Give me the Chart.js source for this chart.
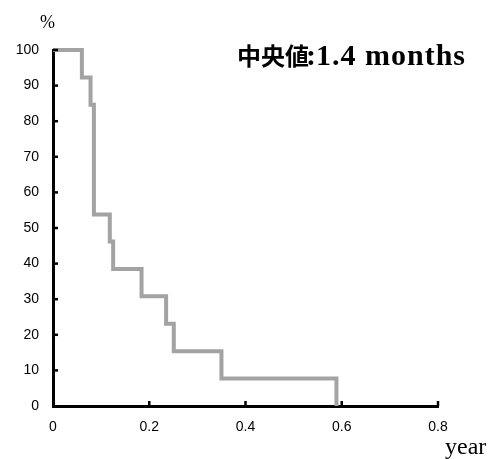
<!DOCTYPE html>
<html>
<head>
<meta charset="utf-8">
<script src="https://cdn.jsdelivr.net/npm/chart.js@4.4.0/dist/chart.umd.min.js"></script>
<style>
  html, body { margin: 0; padding: 0; background: #fff; }
  #wrap { width: 493px; height: 459px; }
</style>
</head>
<body>
<div id="wrap"><canvas id="kmChart" width="493" height="459"></canvas></div>
<script>
// survival curve (Kaplan-Meier), time in years, survival in %
const times = [0, 0.060, 0.078, 0.085, 0.118, 0.125, 0.184, 0.235, 0.251, 0.350, 0.589];
const survival = [100, 92.3, 84.6, 53.8, 46.2, 38.5, 30.8, 23.1, 15.4, 7.7, 0];
const yTicks = [0, 10, 20, 30, 40, 50, 60, 70, 80, 90, 100];
const xTicks = [0, 0.2, 0.4, 0.6, 0.8];

const points = times.map((t, i) => ({ x: t, y: survival[i] }));

// inward tick marks + free text (% / year / median label)
const decorPlugin = {
    id: 'decor',
    afterDraw(chart) {
        const ctx = chart.ctx;
        const xs = chart.scales.x;
        const ys = chart.scales.y;
        const area = chart.chartArea;
        ctx.save();
        ctx.strokeStyle = '#000';
        ctx.lineWidth = 2.5;
        yTicks.slice(1).forEach(v => {
            const y = ys.getPixelForValue(v);
            ctx.beginPath();
            ctx.moveTo(area.left, y);
            ctx.lineTo(area.left + 5, y);
            ctx.stroke();
        });
        xTicks.slice(1).forEach(v => {
            const x = xs.getPixelForValue(v);
            ctx.beginPath();
            ctx.moveTo(x, area.bottom);
            ctx.lineTo(x, area.bottom - 5);
            ctx.stroke();
        });

        ctx.fillStyle = '#000';
        ctx.textBaseline = 'alphabetic';
        ctx.textAlign = 'left';
        ctx.font = '18px "Liberation Serif"';
        ctx.fillText('%', 40, 28);
        ctx.font = '24px "Liberation Serif"';
        ctx.fillText('year', 445, 454);

        ctx.font = 'bold 24px "Noto Sans CJK JP"';
        ctx.fillText('中央値', 237, 65);
        ctx.font = 'bold 30px "Liberation Serif"';
        ctx.fillText(':', 306, 65);
        ctx.letterSpacing = '1px';
        ctx.fillText('1.4 months', 316, 65);
        ctx.restore();
    }
};

new Chart(document.getElementById('kmChart').getContext('2d'), {
    type: 'line',
    data: {
        datasets: [{
            data: points,
            stepped: 'before',
            borderColor: '#a3a3a3',
            borderWidth: 4,
            pointRadius: 0,
            fill: false,
            clip: false
        }]
    },
    options: {
        responsive: false,
        animation: false,
        layout: { padding: { left: 0, top: 50, right: 55, bottom: 0 } },
        plugins: {
            legend: { display: false },
            tooltip: { enabled: false }
        },
        scales: {
            x: {
                type: 'linear',
                min: 0,
                max: 0.8,
                afterFit(scale) { scale.height = 53; },
                afterBuildTicks(scale) { scale.ticks = xTicks.map(v => ({ value: v })); },
                grid: { display: false },
                border: { display: true, color: '#000', width: 3 },
                ticks: {
                    color: '#000',
                    padding: 5,
                    font: { family: '"Liberation Sans", Arial', size: 14 }
                }
            },
            y: {
                min: 0,
                max: 100,
                afterFit(scale) { scale.width = 53; },
                afterBuildTicks(scale) { scale.ticks = yTicks.map(v => ({ value: v })); },
                grid: { display: false },
                border: { display: true, color: '#000', width: 3 },
                ticks: {
                    color: '#000',
                    padding: 6,
                    font: { family: '"Liberation Sans", Arial', size: 14 }
                }
            }
        }
    },
    plugins: [decorPlugin]
});
</script>
</body>
</html>
